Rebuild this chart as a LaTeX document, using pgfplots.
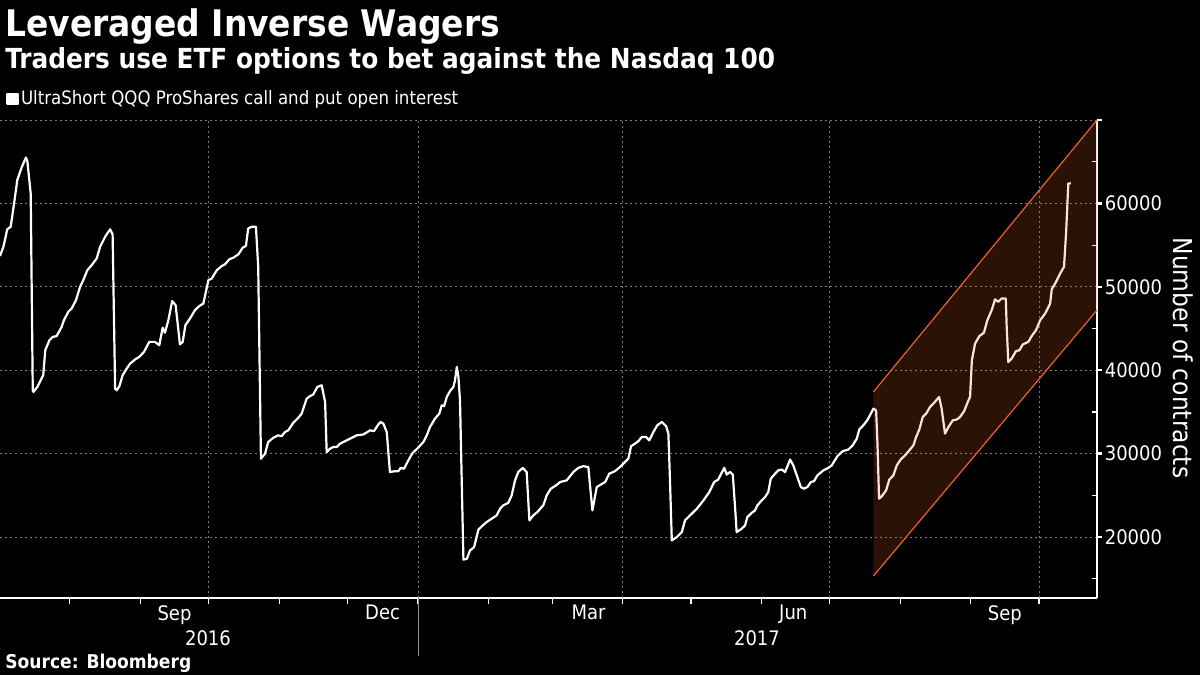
\documentclass[border=0pt]{standalone}
\usepackage{fontspec}
\setmainfont{DejaVu Sans Condensed}
\usepackage{pgfplots}
\pgfplotsset{compat=1.18}
\usepackage{pgfplotstable}
\definecolor{chan}{RGB}{235,100,35}
\definecolor{gridc}{RGB}{125,125,125}
\definecolor{sepc}{RGB}{150,150,150}

% d = days since 1 Jul 2016, v = open interest (contracts)
\pgfplotstableread{
d v
0.3 53700
1.8 54800
3.5 56900
5.0 57200
6.5 60000
7.9 62800
9.8 64300
11.7 65500
12.3 65100
13.8 61200
14.7 37600
15.0 37400
16.7 38000
19.3 39400
20.2 42400
22.0 43600
23.5 44000
25.2 44100
27.4 45200
28.4 46000
30.3 47000
31.8 47400
33.7 48400
35.5 50000
36.9 50800
38.7 52000
40.6 52600
42.8 53400
44.3 54800
46.5 56000
48.7 56900
49.8 56300
50.9 37800
51.6 37600
52.8 38100
54.2 39400
56.0 40200
57.5 40800
59.7 41300
61.5 41600
63.6 42200
65.9 43400
68.4 43400
70.3 43000
71.8 45100
72.8 44500
74.3 46000
76.0 48300
77.5 47800
79.4 43100
80.6 43400
81.8 45400
83.8 46200
86.0 47200
87.9 47700
89.7 48000
91.9 50800
93.4 51000
95.6 52000
97.8 52500
99.2 52700
101.1 53300
102.9 53500
105.1 53900
107.0 54700
108.4 54900
109.4 57000
110.9 57200
112.8 57200
113.8 52400
115.0 29400
116.8 30000
118.2 31400
120.4 31900
122.6 32200
124.1 32100
125.6 32600
127.0 32800
129.2 33700
131.4 34300
132.9 34800
135.1 36600
136.6 36900
138.0 37100
139.8 38000
141.7 38200
143.2 36200
143.9 30200
145.4 30600
146.8 30800
148.3 30800
149.8 31200
152.0 31500
154.2 31800
157.1 32200
160.0 32300
163.0 32800
164.7 32700
166.6 33500
167.6 33800
168.8 33600
170.3 32600
171.7 27800
173.9 27900
175.4 27900
176.4 28300
177.9 28200
179.8 29200
181.7 30100
183.7 30600
186.4 31400
187.9 32200
189.3 33200
191.5 34200
193.4 34800
194.5 35800
195.5 35700
196.7 36800
198.1 37500
199.6 38000
200.3 38800
201.1 40400
201.8 39200
202.5 36400
204.0 17300
205.5 17400
206.9 18400
208.7 18800
210.6 20900
212.1 21300
214.2 21800
216.4 22200
218.6 22600
220.1 23400
221.5 23800
223.7 24100
225.2 25000
226.7 26800
228.1 27800
230.1 28300
231.8 27800
233.0 22000
234.7 22600
236.5 23000
238.4 23600
239.1 23800
240.6 25000
242.4 25800
244.7 26200
246.5 26600
249.4 26800
252.3 27800
254.5 28300
256.7 28500
258.9 28400
260.0 25200
260.7 23200
262.6 26000
264.4 26300
266.3 26600
268.1 27600
270.6 27900
272.8 28400
275.0 29000
276.5 29400
277.7 30900
279.4 31200
280.9 31500
282.4 32000
284.3 32000
285.7 31600
287.5 32600
289.2 33400
291.2 33800
293.1 33300
294.1 32400
294.8 26800
295.6 19600
297.8 20000
300.0 20600
301.4 22000
303.6 22600
306.6 23400
309.5 24400
312.1 25400
314.2 26600
316.0 26900
317.5 27700
318.7 28300
319.7 27500
321.2 27800
322.4 27500
323.4 23600
324.1 20600
326.3 21000
327.8 21400
328.8 22400
330.7 22900
332.2 23200
333.2 23800
335.1 24400
336.6 24800
338.0 25400
339.1 27000
341.0 27600
342.4 28000
343.9 28100
345.4 27800
347.6 29300
349.0 28600
350.8 27200
352.3 26000
353.7 25800
355.2 26000
356.7 26600
358.1 26700
359.6 27400
362.2 28000
364.4 28300
365.9 28600
368.4 29700
370.7 30300
373.2 30500
375.1 31000
376.9 31800
378.0 32900
379.8 33400
381.5 34000
382.7 34600
384.2 35400
385.4 35200
386.0 31200
386.7 24600
387.9 24900
389.8 25600
391.2 26900
393.0 27400
394.5 28600
396.2 29300
398.1 29800
400.0 30400
401.8 31000
403.0 32000
404.4 32900
405.9 34400
407.4 34800
409.1 35600
410.9 36100
413.1 36800
414.2 35400
415.7 32400
417.2 33200
419.1 34000
420.9 34100
422.3 34400
424.1 35100
426.0 36400
426.7 36800
427.5 41200
428.9 43200
430.8 44100
432.8 44500
434.3 46000
436.2 47200
437.7 48500
439.1 48200
440.6 48600
442.4 48600
442.8 45200
443.5 41000
445.0 41400
446.9 42300
448.4 42400
449.9 43100
452.3 43400
453.8 44100
455.7 44800
457.5 46000
459.7 46800
461.9 48000
462.6 49700
464.5 50600
466.3 51600
468.0 52400
468.9 56400
469.9 62400
471.0 62400
}\oidata

\pgfplotstableread{
d lo hi
384.2 15330 37400
482.5 47200 70000
}\chandata

\begin{document}
\begin{tikzpicture}
\path[use as bounding box, fill=black] (0,0) rectangle (600pt,337.5pt);
\node[anchor=base west, text=white, inner sep=0pt, font=\bfseries\fontsize{18.3}{20}\selectfont] at (2.5pt,319pt) {Leveraged Inverse Wagers};
\node[anchor=base west, text=white, inner sep=0pt, font=\bfseries\fontsize{13.8}{15}\selectfont] at (2.5pt,303pt) {Traders use ETF options to bet against the Nasdaq 100};
\begin{axis}[
  at={(0pt,38.5pt)}, anchor=south west,
  scale only axis, width=548.5pt, height=239pt,
  xmin=0.3, xmax=482.5, ymin=12700, ymax=70000,
  scaled y ticks=false,
  axis x line*=bottom, axis y line*=right,
  axis line style={white, line width=0.8pt},
  tick align=outside,
  major tick length=2.5pt, minor tick length=2.8pt,
  xtick={77,168.5,259,349,442},
  xticklabels={Sep,Dec,Mar,Jun,Sep},
  major x tick style={draw=none},
  minor xtick={31,62,92,123,153,184,215,243,274,304,335,365,396,427,457},
  minor x tick style={white, line width=0.6pt},
  extra x ticks={92,184,274,365,457},
  extra x tick labels={},
  extra x tick style={grid=major},
  ytick={20000,30000,40000,50000,60000,70000},
  yticklabels={20000,30000,40000,50000,60000,{}},
  major y tick style={white, line width=1.2pt},
  extra y ticks={15000,25000,35000,45000,55000,65000},
  extra y tick labels={},
  extra y tick style={grid=none, tick align=inside, major y tick style={white, line width=0.6pt}},
  ymajorgrids=true,
  major grid style={gridc, line width=0.4pt, dash pattern=on 1pt off 1.5pt},
  tick label style={text=white, font=\fontsize{10}{12}\selectfont},
  xticklabel style={inner sep=0pt, yshift=-1pt},
  yticklabel style={inner sep=0pt, xshift=1.2pt},
  legend style={at={(0,1)}, anchor=west, xshift=3pt, yshift=10.5pt, draw=none, fill=none,
    text=white, font=\fontsize{9.25}{11}\selectfont, inner xsep=0pt, inner ysep=0pt,
    nodes={inner xsep=1pt, inner ysep=0pt}},
  legend image code/.code={\fill[white] (0pt,-2.6pt) rectangle (5.2pt,2.6pt);},
  legend cell align=left,
]
\addplot[white, line width=1.1pt, line join=round] table[x=d,y=v]{\oidata};
\addlegendentry{UltraShort QQQ ProShares call and put open interest}
\addplot[draw=none, fill=chan, fill opacity=0.18, forget plot] coordinates {(384.2,15330) (482.5,47200) (482.5,70000) (384.2,37400)} -- cycle;
\addplot[chan, line width=0.6pt, forget plot] table[x=d,y=hi]{\chandata};
\addplot[chan, line width=0.6pt, forget plot] table[x=d,y=lo]{\chandata};
\end{axis}
\draw[sepc, line width=0.5pt] (209pt,38.5pt) -- (209pt,9.5pt);
\node[text=white, font=\fontsize{10}{12}\selectfont, inner sep=0pt] at (104pt,18.5pt) {2016};
\node[text=white, font=\fontsize{10}{12}\selectfont, inner sep=0pt] at (378.5pt,18.5pt) {2017};
\node[rotate=-90, text=white, font=\fontsize{13}{15}\selectfont, inner sep=0pt] at (591.5pt,158.5pt) {Number of contracts};
\node[anchor=base west, text=white, inner sep=0pt, font=\bfseries\fontsize{9.5}{11}\selectfont] at (2.5pt,3pt) {Source: Bloomberg};
\end{tikzpicture}
\end{document}
